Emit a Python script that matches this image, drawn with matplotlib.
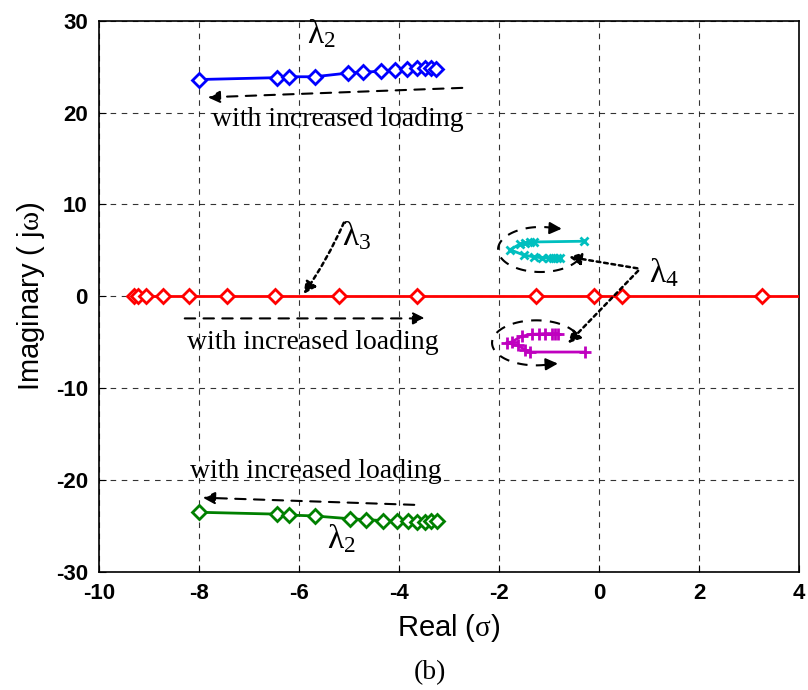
import numpy as np
import matplotlib
matplotlib.use("Agg")
import matplotlib.pyplot as plt

plt.rcParams['font.family'] = ['Liberation Sans', 'DejaVu Sans']
plt.rcParams['axes.unicode_minus'] = False
plt.rcParams['mathtext.fontset'] = 'custom'
plt.rcParams['mathtext.rm'] = 'Liberation Serif'
plt.rcParams['mathtext.it'] = 'Liberation Serif'
plt.rcParams['mathtext.bf'] = 'Liberation Serif:bold'

# lambda_2 upper branch (blue), lower branch (green)
lam2_re = [-7.99, -6.45, -6.2, -5.69, -5.03, -4.72, -4.36, -4.08, -3.85, -3.65, -3.48, -3.36, -3.27]
lam2_im_up = [23.6, 23.8, 23.9, 23.9, 24.3, 24.4, 24.5, 24.6, 24.7, 24.8, 24.8, 24.8, 24.7]
lam2_re_dn = [-7.99, -6.45, -6.2, -5.69, -4.99, -4.67, -4.33, -4.05, -3.82, -3.64, -3.48, -3.36, -3.25]
lam2_im_dn = [-23.5, -23.7, -23.8, -23.9, -24.2, -24.3, -24.4, -24.5, -24.5, -24.6, -24.6, -24.5, -24.5]

# lambda_3 on the real axis (red); last value lies outside the plotted range
lam3_re = [-9.3, -9.22, -9.05, -8.71, -8.19, -7.45, -6.48, -5.21, -3.65, -1.26, -0.1, 0.46, 3.26, 5.0]
lam3_im = [0] * len(lam3_re)

# lambda_4 upper (cyan) and lower (magenta)
lam4_up_re = [-0.78, -0.84, -0.92, -1.01, -1.15, -1.31, -1.51, -1.78, -1.58, -1.48, -1.38, -1.31, -0.30]
lam4_up_im = [4.2, 4.2, 4.18, 4.18, 4.2, 4.3, 4.5, 5.08, 5.7, 5.8, 5.9, 5.92, 6.0]
lam4_dn_re = [-0.83, -0.88, -0.95, -1.08, -1.21, -1.35, -1.55, -1.75, -1.85, -1.63, -1.48, -1.38, -0.28]
lam4_dn_im = [-4.05, -4.05, -4.05, -4.05, -4.1, -4.13, -4.35, -4.97, -5.04, -5.33, -5.8, -6.06, -6.06]

fig = plt.figure(figsize=(8.08, 6.9), dpi=100)
ax = fig.add_axes([0.1225, 0.171, 0.8665, 0.799])

ax.plot(lam3_re, lam3_im, color='red', lw=2, marker='D', ms=7.5, mfc='white',
        mew=2, markevery=list(range(len(lam3_re) - 1)), zorder=3)
ax.plot(lam2_re, lam2_im_up, color='blue', lw=2, marker='D', ms=7.5, mfc='white', mew=2, zorder=3)
ax.plot(lam2_re_dn, lam2_im_dn, color='green', lw=2, marker='D', ms=7.5, mfc='white', mew=2, zorder=3)
ax.plot(lam4_up_re, lam4_up_im, color='#00bfbf', lw=2, marker='x', ms=6, mew=2, zorder=3)
ax.plot(lam4_dn_re, lam4_dn_im, color='#bf00bf', lw=2, marker='+', ms=9, mew=2, zorder=3)

ax.set_xlim(-10, 4)
ax.set_ylim(-30, 30)
ax.set_xticks(range(-10, 5, 2))
ax.set_yticks(range(-30, 31, 10))
ax.grid(True, color='black', ls=(0, (5, 5)), lw=0.8, alpha=0.8)
ax.tick_params(direction='in', length=5, labelsize=16, pad=8)
for lbl in ax.get_xticklabels() + ax.get_yticklabels():
    lbl.set_fontweight('bold')
for s in ax.spines.values():
    s.set_linewidth(1.2)

ax.set_xlabel(r'Real ($\sigma$)', fontsize=21, labelpad=6)
ax.set_ylabel(r'Imaginary ( j$\omega$)', fontsize=21, labelpad=6)

serif = dict(family='Liberation Serif', fontsize=20)
lam = dict(fontsize=24)

# direction arrows + text
dash_arrow = dict(arrowstyle='-|>', ls=(0, (5, 4)), lw=1.5, color='black', mutation_scale=18)
ax.annotate('', xy=(-7.88, 21.65), xytext=(-2.68, 22.7), arrowprops=dash_arrow)
ax.text(-5.22, 19.3, 'with increased loading', ha='center', va='center', **serif)
ax.text(-5.55, 28.6, r'$\lambda_2$', ha='center', va='center', **lam)

ax.annotate('', xy=(-3.42, -2.4), xytext=(-8.34, -2.4), arrowprops=dash_arrow)
ax.text(-5.72, -5.0, 'with increased loading', ha='center', va='center', **serif)

ax.annotate('', xy=(-7.98, -21.9), xytext=(-3.64, -22.7), arrowprops=dash_arrow)
ax.text(-5.66, -19.1, 'with increased loading', ha='center', va='center', **serif)
ax.text(-5.15, -26.4, r'$\lambda_2$', ha='center', va='center', **lam)

dot_arrow = dict(arrowstyle='-|>', ls=(0, (1.5, 1.5)), lw=1.8, color='black', mutation_scale=18)
ax.text(-4.85, 6.6, r'$\lambda_3$', ha='center', va='center', **lam)
ax.annotate('', xy=(-5.94, 0.0), xytext=(-5.08, 8.3),
            arrowprops=dict(dot_arrow, connectionstyle='arc3,rad=-0.05'))

ax.text(1.3, 2.6, r'$\lambda_4$', ha='center', va='center', **lam)
ax.annotate('', xy=(-0.66, 4.35), xytext=(0.82, 3.0), arrowprops=dot_arrow)
ax.annotate('', xy=(-0.66, -5.33), xytext=(0.82, 3.0), arrowprops=dot_arrow)

# dashed ellipses around lambda_4 paths
t_up = np.radians(np.linspace(-25, -295, 120))
ex = -1.17 + 0.85 * np.cos(t_up)
ey = 5.1 + 2.45 * np.sin(t_up)
ax.plot(ex, ey, color='black', lw=1.5, ls=(0, (5, 4)))
ax.annotate('', xy=(ex[-1] + 0.12, ey[-1] + 0.02), xytext=(ex[-3], ey[-3]),
            arrowprops=dict(arrowstyle='-|>', color='black', lw=1.5, mutation_scale=18))

t_dn = np.radians(np.linspace(25, 295, 120))
fx = -1.26 + 0.88 * np.cos(t_dn)
fy = -5.06 + 2.45 * np.sin(t_dn)
ax.plot(fx, fy, color='black', lw=1.5, ls=(0, (5, 4)))
ax.annotate('', xy=(fx[-1] + 0.12, fy[-1] - 0.02), xytext=(fx[-3], fy[-3]),
            arrowprops=dict(arrowstyle='-|>', color='black', lw=1.5, mutation_scale=18))

fig.text(0.532, 0.025, '(b)', ha='center', va='center', family='Liberation Serif', fontsize=20)

fig.savefig('out.png', dpi=100)
